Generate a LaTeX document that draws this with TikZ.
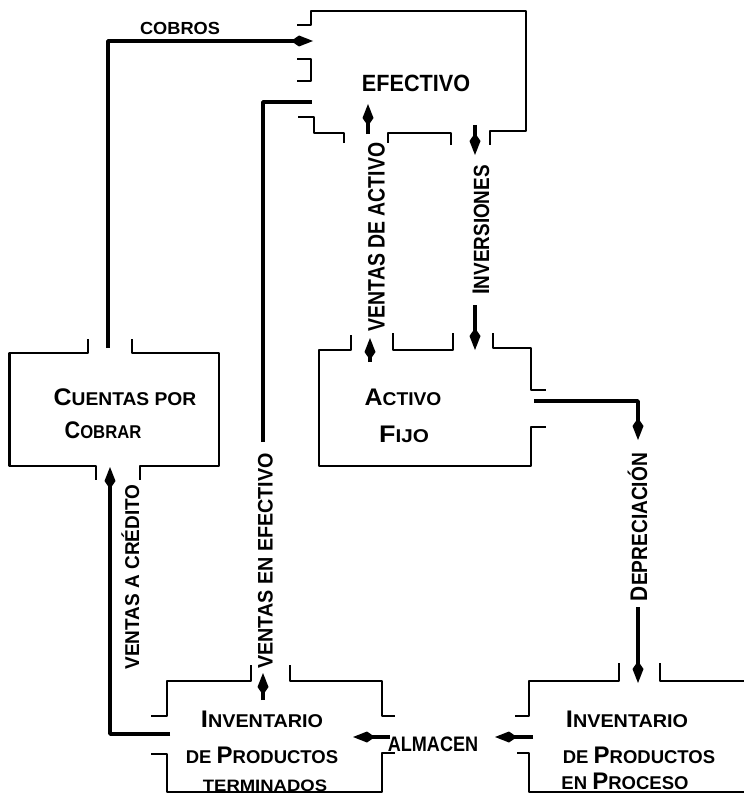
\documentclass[tikz,border=0pt]{standalone}
\usepackage{fontspec}
\usepackage{graphicx}
\setmainfont{Liberation Sans}
\usetikzlibrary{arrows.meta}
\newcommand\fs[1]{\fontsize{#1}{#1}\bfseries\selectfont}
\newcommand\BL[1]{{\fontsize{24}{24}\selectfont #1}}
\newcommand\hs[2]{\scalebox{#1}[1]{#2}}
\begin{document}
\begin{tikzpicture}[x=1pt,y=-1pt,
  boxline/.style={line width=2.8pt, line join=round},
  conn/.style={line width=3.8pt, line join=round},
  arrowed/.style={-{Kite[length=22pt,width=11pt,inset=8pt]}},
  lbl/.style={inner sep=0pt, anchor=base},
  vlbl/.style={inner sep=0pt, anchor=base, rotate=90},
]
\useasboundingbox (0,0) rectangle (744,797);

% ---- EFECTIVO box ----
\draw[boxline] (297,25) -- (311,25) -- (311,11) -- (526,11) -- (526,131) -- (490,131) -- (490,145);
\draw[boxline] (451,145) -- (451,133) -- (388,133) -- (388,143);
\draw[boxline] (344,143) -- (344,133) -- (314,133) -- (314,117) -- (298,117);
\draw[boxline] (297,59) -- (311,59) -- (311,81) -- (297,81);
\node[lbl, font={\fs{23.5}}] (ef) at (416,92) {\hs{0.92}{EFECTIVO}};

% ---- CUENTAS POR COBRAR box ----
\draw[boxline] (88,339) -- (88,353) -- (9.5,353) -- (9.5,466) -- (96,466) -- (96,480);
\draw[boxline] (132,339) -- (132,353) -- (219,353) -- (219,466) -- (140,466) -- (140,480);
\node[lbl, font={\fs{18.5}}] (cc1) at (125,405) {\hs{1.04}{\BL{C}UENTAS POR}};
\node[lbl, font={\fs{18.5}}] (cc2) at (103,438) {\hs{0.9}{\BL{C}OBRAR}};

% ---- ACTIVO FIJO box ----
\draw[boxline] (351,335) -- (351,350) -- (319,350) -- (319,466) -- (531,466) -- (531,427) -- (546,427);
\draw[boxline] (393,333) -- (393,350) -- (453,350) -- (453,333);
\draw[boxline] (493,333) -- (493,348) -- (531,348) -- (531,390) -- (546,390);
\node[lbl, font={\fs{18.5}}] (af1) at (403,405) {\hs{1.04}{\BL{A}CTIVO}};
\node[lbl, font={\fs{18.5}}] (af2) at (404,442) {\hs{1.12}{\BL{F}IJO}};

% ---- INVENTARIO DE PRODUCTOS TERMINADOS box ----
\draw[boxline] (151,716) -- (167,716) -- (167,681) -- (251,681) -- (251,665);
\draw[boxline] (290,665) -- (290,681) -- (382,681) -- (382,716) -- (395,716);
\draw[boxline] (151,754) -- (167,754) -- (167,792) -- (382,792) -- (382,753) -- (395,753);
\node[lbl, font={\fs{18.5}}] (it1) at (262,727) {\hs{1.07}{\BL{I}NVENTARIO}};
\node[lbl, font={\fs{18.5}}] (it2) at (262,763) {\BL{}DE \BL{P}RODUCTOS};
\node[lbl, font={\fs{16.5}}] (it3) at (265,791) {\hs{1.12}{TERMINADOS}};

% ---- INVENTARIO DE PRODUCTOS EN PROCESO box ----
\draw[boxline] (515,716) -- (529,716) -- (529,681) -- (619,681) -- (619,663);
\draw[boxline] (660,663) -- (660,681) -- (744,681);
\draw[boxline] (517,753) -- (529,753) -- (529,792) -- (744,792);
\node[lbl, font={\fs{18.5}}] (ip1) at (627,727) {\hs{1.07}{\BL{I}NVENTARIO}};
\node[lbl, font={\fs{18.5}}] (ip2) at (639,763) {DE \BL{P}RODUCTOS};
\node[lbl, font={\fs{18.5}}] (ip3) at (625,789) {EN \BL{P}ROCESO};

% ---- connector labels ----
\node[lbl, font={\fs{17.5}}] (lcob) at (180,35) {\hs{1.04}{COBROS}};
\node[lbl, font={\fs{21}}] (lalm) at (433,751) {\hs{0.86}{ALMACEN}};
\node[vlbl, font={\fs{20}}] (lvac) at (139,577) {\hs{0.95}{VENTAS A CRÉDITO}};
\node[vlbl, font={\fs{21}}] (lvef) at (272.5,561) {\hs{0.94}{VENTAS EN EFECTIVO}};
\node[vlbl, font={\fs{23.7}}] (lva) at (384.5,237) {\hs{0.82}{VENTAS DE ACTIVO}};
\node[vlbl, font={\fs{22}}] (linv) at (489,230) {\hs{0.86}{\BL{I}NVERSIONES}};
\node[vlbl, font={\fs{22}}] (ldep) at (647,527) {\hs{0.87}{\BL{D}EPRECIACIÓN}};

% ---- ports ----
\coordinate (ef-cob) at (313,41);
\coordinate (ef-vef) at (312,102);
\coordinate (ef-va) at (368,104);
\coordinate (va-top) at (368,134);
\coordinate (ef-inv) at (475,125);
\coordinate (inv-top) at (475,155);
\coordinate (cc-top) at (108,348);
\coordinate (cc-bot) at (110,467);
\coordinate (af-va) at (370,362);
\coordinate (va-bot) at (370,338);
\coordinate (inv-bot) at (475,305);
\coordinate (af-inv) at (475,350);
\coordinate (af-dep) at (534,401);
\coordinate (dep-top) at (638,440);
\coordinate (dep-bot) at (638,607);
\coordinate (ip-dep) at (638,683);
\coordinate (it-vef) at (263,700);
\coordinate (vef-bot) at (263,673);
\coordinate (vef-top) at (263,442);
\coordinate (it-vac) at (170,734);
\coordinate (alm-w) at (390,737);
\coordinate (it-alm) at (353,737);
\coordinate (ip-alm) at (533,737);
\coordinate (alm-e) at (495,737);

% ---- connectors ----
\draw[conn, arrowed] (cc-top) |- (ef-cob);
\draw[conn, arrowed] (it-vac) -| (cc-bot);
\draw[conn, arrowed] (it-vef) -- (vef-bot);
\draw[conn] (vef-top) |- (ef-vef);
\draw[conn, arrowed] (af-va) -- (va-bot);
\draw[conn, arrowed] (va-top) -- (ef-va);
\draw[conn, arrowed] (ef-inv) -- (inv-top);
\draw[conn, arrowed] (inv-bot) -- (af-inv);
\draw[conn, arrowed] (af-dep) -| (dep-top);
\draw[conn, arrowed] (dep-bot) -- (ip-dep);
\draw[conn, arrowed] (alm-w) -- (it-alm);
\draw[conn, arrowed] (ip-alm) -- (alm-e);
\end{tikzpicture}
\end{document}
